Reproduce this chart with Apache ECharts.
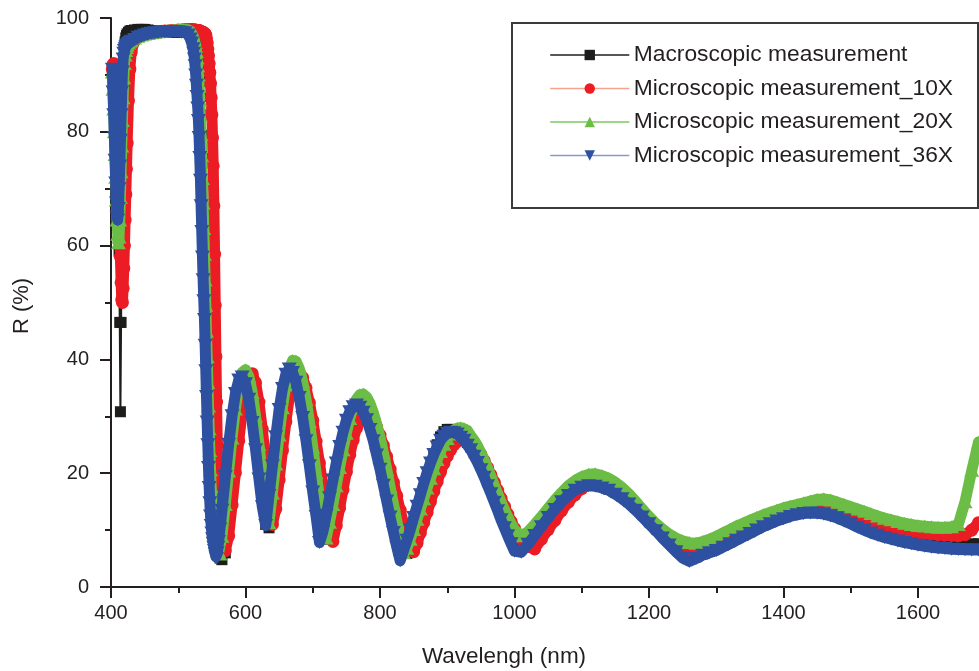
<!DOCTYPE html>
<html>
<head>
<meta charset="utf-8">
<script src="https://cdn.jsdelivr.net/npm/echarts@6/dist/echarts.min.js"></script>
<style>html,body{margin:0;padding:0;background:#fff}#c{width:979px;height:671px}</style>
</head>
<body>
<div id="c"></div>
<script>
// ---- data (wavelength in nm, reflectance in %) ----
const wavelength = [
  402,403,404,405,406,407,408,409,410,411,412,413,414,415,416,417,418,419,420,421,422,423,424,
  426,428,430,
  435,440,445,450,455,460,465,470,475,480,485,490,495,500,505,510,515,
  518,520,
  522,523,524,525,526,527,528,529,530,531,
  532,533,534,535,536,537,538,539,540,541,
  542,543,544,545,546,547,548,549,550,551,
  552,553,554,555,556,557,558,559,560,
  562,
  565,570,575,580,585,590,595,600,605,610,
  615,620,625,630,635,640,645,650,655,660,
  665,670,675,680,685,690,695,700,705,710,
  715,720,725,730,735,740,745,750,755,760,
  765,770,775,780,785,790,795,800,805,810,
  815,820,825,830,835,840,845,850,855,860,
  865,870,875,880,885,890,895,900,905,910,
  915,920,925,930,935,940,945,950,955,960,
  965,970,975,980,985,990,995,1000,
  1010,1020,1030,1040,1050,1060,1070,1080,1090,1100,
  1110,1120,1130,1140,1150,1160,1170,1180,1190,1200,
  1210,1220,1230,1240,1250,1260,1270,1280,1290,1300,
  1310,1320,1330,1340,1350,1360,1370,1380,1390,1400,
  1410,1420,1430,1440,1450,1460,1470,1480,1490,1500,
  1510,1520,1530,1540,1550,1560,1570,1580,1590,1600,
  1610,1620,1630,1640,1650,1660,1670,1680,1690
];

const rMacro = [
  90.5,90.5,90.0,89.5,88.5,87.5,86.0,83.0,77.0,69.0,59.0,46.5,30.8,46.5,62.0,77.0,87.0,92.0,94.5,95.8,96.5,96.9,97.2,
  97.5,97.7,97.8,
  97.9,98.0,98.0,98.0,97.9,97.8,97.7,97.6,97.5,97.5,97.5,97.5,97.5,97.5,97.5,97.5,97.5,
  97.4,97.3,
  97.2,97.0,96.8,96.5,96.2,95.8,95.2,94.2,92.8,91.0,
  88.8,86.2,83.0,79.4,75.3,70.8,65.8,60.5,55.0,49.3,
  43.6,38.0,32.6,27.7,23.5,19.8,16.6,14.0,12.0,10.6,
  9.5,8.6,7.9,7.3,6.8,6.4,6.0,5.7,5.5,
  5.1,
  4.8,6.0,11.5,18.5,25.5,31.5,35.3,37.0,35.9,33.1,
  28.7,23.4,16.5,11.0,10.4,15.2,21.3,26.4,31.1,34.7,
  37.1,38.0,37.6,36.1,34.0,31.1,27.7,23.9,19.9,15.9,
  12.0,8.4,8.8,11.9,15.4,18.8,22.1,25.2,27.8,29.8,
  31.1,31.5,31.2,30.6,29.7,28.3,26.6,24.7,22.6,20.2,
  17.7,15.3,12.7,10.4,8.0,5.9,6.3,8.6,11.1,13.7,
  16.2,18.7,21.1,23.1,25.0,26.4,27.3,27.7,27.7,27.6,
  27.2,26.8,26.2,25.4,24.6,23.6,22.6,21.4,20.2,18.9,
  17.6,16.3,14.9,13.55,12.2,10.9,9.6,8.4,
  6.75,8.1,9.5,11.0,12.5,13.9,15.2,16.3,17.2,17.7,
  18.0,17.9,17.7,17.2,16.6,15.9,15.0,14.0,12.9,11.7,
  10.6,9.4,8.2,7.1,6.0,5.3,5.3,5.8,6.3,6.8,
  7.3,7.9,8.5,9.1,9.7,10.3,10.9,11.4,11.9,12.3,
  12.7,13.0,13.2,13.3,13.3,13.1,12.8,12.4,12.0,11.5,
  11.0,10.5,10.1,9.7,9.3,9.0,8.7,8.4,8.2,8.0,
  7.9,7.8,7.75,7.7,7.7,7.65,7.6,7.6,7.6
];

const r10X = [
  91.0,91.8,92.0,91.3,89.8,87.5,84.5,81.0,77.0,72.5,68.0,63.0,58.0,53.5,50.5,50.0,52.5,56.0,60.0,64.5,69.0,73.5,78.0,
  85.5,91.0,94.0,
  96.0,96.6,96.9,97.1,97.2,97.3,97.4,97.5,97.6,97.7,97.7,97.8,97.8,97.9,97.9,98.0,98.0,
  98.0,98.0,
  97.9,97.9,97.9,97.9,97.9,97.8,97.8,97.8,97.8,97.8,
  97.7,97.7,97.6,97.6,97.5,97.5,97.4,97.3,97.2,97.0,
  96.4,95.6,94.6,93.4,92.0,90.4,88.5,86.0,83.0,79.0,
  74.0,67.0,58.5,49.5,40.5,32.5,25.0,19.0,15.0,
  11.0,
  8.5,6.4,9.0,14.4,20.1,25.7,30.7,34.5,36.9,37.5,
  35.9,32.5,27.7,22.1,16.3,11.0,13.7,18.8,24.0,29.0,
  33.2,36.3,37.8,37.7,36.8,35.0,32.4,29.3,25.6,21.8,
  17.8,13.9,10.2,8.0,10.8,13.9,17.1,20.2,23.2,25.8,
  27.9,29.5,30.3,30.5,30.1,29.3,28.1,26.7,24.9,22.9,
  20.7,18.4,16.0,13.5,11.2,8.9,6.8,6.2,7.7,9.5,
  11.3,13.1,15.0,16.8,18.5,20.2,21.7,23.0,24.1,25.0,
  25.6,25.9,26.0,25.8,25.4,24.9,24.2,23.3,22.2,21.0,
  19.7,18.4,17.0,15.6,14.2,12.8,11.5,10.3,
  8.4,7.1,6.7,8.4,10.1,11.7,13.4,14.9,16.2,17.3,
  18.0,18.3,18.2,17.8,17.1,16.2,15.1,13.9,12.6,11.3,
  10.1,9.0,8.0,7.2,6.6,6.2,6.0,6.1,6.4,6.8,
  7.3,7.9,8.5,9.1,9.7,10.3,10.9,11.5,12.0,12.5,
  12.9,13.3,13.6,13.8,14.0,14.0,13.8,13.5,13.1,12.7,
  12.3,11.9,11.5,11.1,10.8,10.4,10.1,9.9,9.7,9.5,
  9.4,9.3,9.2,9.1,9.05,9.0,9.2,10.0,11.3
];

const r20X = [
  90.5,87.5,84.0,80.0,76.0,72.0,68.0,64.5,62.0,60.5,61.5,64.5,68.5,73.0,77.5,82.0,86.0,89.5,92.0,93.5,94.3,94.8,95.2,
  95.6,95.9,96.1,
  96.5,96.8,97.0,97.2,97.3,97.4,97.5,97.6,97.7,97.7,97.8,97.8,97.9,97.9,98.0,98.0,97.9,
  97.7,97.4,
  96.9,96.6,96.2,95.7,95.0,94.1,93.0,91.6,90.0,88.0,
  85.6,82.8,79.5,75.8,71.8,67.5,63.0,58.5,54.0,49.5,
  45.0,40.5,36.0,31.8,27.8,24.0,20.6,17.6,15.0,12.8,
  11.0,9.6,8.5,7.9,7.4,7.0,6.6,6.3,6.0,
  5.8,
  8.9,14.5,20.4,26.2,31.3,35.2,37.7,38.2,37.0,34.2,
  30.0,25.1,19.8,14.7,11.3,16.5,21.6,26.7,31.5,35.5,
  38.4,39.8,39.7,38.4,36.1,33.0,29.1,24.6,20.1,15.5,
  11.2,8.6,11.4,14.5,17.8,21.0,24.1,27.0,29.6,31.6,
  33.0,33.8,33.9,33.4,32.3,30.7,28.7,26.3,23.6,20.7,
  17.6,14.6,11.6,8.7,6.0,6.8,8.4,10.1,11.9,13.7,
  15.5,17.4,19.1,20.8,22.4,23.8,25.1,26.1,26.9,27.6,
  27.9,28.0,27.8,27.5,26.6,25.8,24.8,23.6,22.3,20.9,
  19.4,17.9,16.4,15.0,13.6,12.3,11.1,10.1,
  9.0,9.7,11.0,12.4,13.85,15.3,16.6,17.8,18.7,19.4,
  19.8,19.9,19.6,19.1,18.4,17.5,16.4,15.1,13.7,12.4,
  11.2,10.2,9.3,8.6,8.1,7.8,7.7,8.0,8.4,8.9,
  9.5,10.1,10.7,11.2,11.7,12.2,12.7,13.1,13.5,13.9,
  14.2,14.5,14.8,15.1,15.4,15.5,15.3,14.9,14.5,14.1,
  13.7,13.3,12.9,12.5,12.1,11.8,11.5,11.2,11.0,10.8,
  10.7,10.6,10.5,10.5,10.6,11.0,15.0,20.5,25.5
];

const r36X = [
  91.0,87.0,83.0,79.0,75.0,71.0,67.5,65.0,64.5,66.5,70.0,74.0,78.5,83.0,87.0,90.5,92.8,93.8,94.3,94.6,94.9,95.1,95.3,
  95.5,95.7,95.9,
  96.2,96.6,96.8,97.0,97.2,97.3,97.4,97.5,97.6,97.6,97.6,97.6,97.6,97.6,97.5,97.4,97.0,
  96.3,95.6,
  94.6,93.8,92.8,91.6,90.0,88.2,86.2,84.2,82.0,79.0,
  75.5,71.5,67.0,62.5,58.0,54.0,50.3,47.0,42.5,38.0,
  33.5,29.0,25.0,21.0,17.5,14.8,12.5,10.8,9.5,8.5,
  7.7,7.0,6.4,5.8,5.3,5.0,6.0,7.0,8.0,
  10.2,
  13.5,19.4,25.1,30.1,34.0,36.4,36.9,35.7,33.0,28.9,
  24.1,19.0,14.1,10.8,16.1,21.3,26.4,31.2,34.9,37.4,
  38.3,37.7,36.0,33.3,29.8,25.7,21.3,16.7,12.4,7.8,
  9.7,12.6,15.7,18.8,21.8,24.7,27.2,29.3,30.8,31.7,
  32.0,31.6,30.7,29.4,27.7,25.7,23.2,20.7,17.9,15.1,
  12.3,9.6,7.0,4.6,6.4,8.2,10.1,12.2,14.2,16.2,
  18.2,20.1,21.8,23.3,24.6,25.8,26.5,27.0,27.2,27.1,
  26.9,26.3,25.8,24.9,24.1,23.0,21.9,20.6,19.3,17.8,
  16.4,14.9,13.4,11.8,10.4,9.0,7.6,6.3,
  6.1,7.5,9.05,10.6,12.2,13.6,15.0,16.1,17.0,17.55,
  17.8,17.7,17.4,17.0,16.3,15.5,14.6,13.5,12.3,11.1,
  9.9,8.6,7.4,6.2,5.1,4.5,5.0,5.6,6.0,6.4,
  7.0,7.6,8.2,8.8,9.4,10.0,10.6,11.1,11.6,12.0,
  12.4,12.7,12.9,13.0,12.95,12.8,12.5,12.1,11.6,11.1,
  10.5,10.0,9.5,9.1,8.7,8.4,8.1,7.8,7.6,7.35,
  7.15,7.0,6.85,6.75,6.65,6.6,6.55,6.5,6.5
];

const seriesNames = [
  'Macroscopic measurement',
  'Microscopic measurement_10X',
  'Microscopic measurement_20X',
  'Microscopic measurement_36X'
];
const xAxisTitle = 'Wavelengh (nm)';
const yAxisTitle = 'R (%)';

// ---- styling ----
const FONT = '"Liberation Sans", Arial, Helvetica, sans-serif';
const INK = '#231f20';
const styles = [
  {values: rMacro, color: '#1d1d1b', symbol: 'rect', size: 11, lw: 2, legendLine: '#231f20', z: 2},
  {values: r10X, color: '#ec1c24', symbol: 'circle', size: 13, lw: 11, legendLine: '#f6a38d', z: 3},
  {values: r20X, color: '#6cbd45', symbol: 'triangle', size: [15, 13], lw: 11, legendLine: '#80c760', z: 4},
  {values: r36X, color: '#2e50a0', symbol: 'path://M0,0L12,0L6,10Z', size: [15, 13], lw: 11, legendLine: '#8d97cf', z: 5}
];

const chart = echarts.init(document.getElementById('c'), null, {renderer: 'canvas', width: 979, height: 671});

const series = styles.map((s, k) => ({
  type: 'line',
  name: seriesNames[k],
  data: wavelength.map((w, i) => [w, s.values[i]]),
  symbol: s.symbol,
  symbolSize: s.size,
  showSymbol: true,
  showAllSymbol: true,
  itemStyle: {color: s.color},
  lineStyle: {color: s.color, width: s.lw, join: 'round', cap: 'round'},
  emphasis: {disabled: true},
  silent: true,
  z: s.z,
  clip: true
}));

const plainNumber = v => String(v);

chart.setOption({
  animation: false,
  backgroundColor: '#ffffff',
  grid: {left: 111, top: 18, width: 941.5, height: 569, containLabel: false, outerBoundsMode: 'none'},
  xAxis: {
    type: 'value', min: 400, max: 1800, interval: 200,
    axisLine: {show: true, onZero: false, lineStyle: {color: INK, width: 2}},
    axisTick: {show: true, length: 11, lineStyle: {color: INK, width: 2}},
    minorTick: {show: true, splitNumber: 2, length: 6, lineStyle: {color: INK, width: 2}},
    axisLabel: {color: INK, fontSize: 20, fontFamily: FONT, margin: 16, showMaxLabel: false, formatter: plainNumber},
    splitLine: {show: false}, minorSplitLine: {show: false}
  },
  yAxis: {
    type: 'value', min: 0, max: 100, interval: 20,
    axisLine: {show: true, onZero: false, lineStyle: {color: INK, width: 2}},
    axisTick: {show: true, length: 11, lineStyle: {color: INK, width: 2}},
    minorTick: {show: true, splitNumber: 2, length: 6, lineStyle: {color: INK, width: 2}},
    axisLabel: {color: INK, fontSize: 20, fontFamily: FONT, margin: 22, formatter: plainNumber},
    splitLine: {show: false}, minorSplitLine: {show: false}
  },
  legend: {
    orient: 'vertical', left: 550, top: 43, padding: 0,
    itemWidth: 78, itemHeight: 13, itemGap: 9.5,
    selectedMode: false,
    textStyle: {color: INK, fontSize: 22.8, fontFamily: FONT, lineHeight: 24},
    data: styles.map((s, k) => ({
      name: seriesNames[k],
      itemStyle: {color: s.color},
      lineStyle: {color: s.legendLine, width: 1.5}
    }))
  },
  graphic: [
    {type: 'rect', shape: {x: 512, y: 23, width: 466, height: 185},
     style: {fill: 'none', stroke: '#3a3a3a', lineWidth: 2}, silent: true},
    {type: 'text', x: 504, y: 657,
     style: {text: xAxisTitle, fill: INK, fontSize: 22.5, fontFamily: FONT, align: 'center', verticalAlign: 'middle'}},
    {type: 'text', x: 22, y: 306, rotation: Math.PI / 2,
     style: {text: yAxisTitle, fill: INK, fontSize: 22, fontFamily: FONT, align: 'center', verticalAlign: 'middle'}}
  ],
  series: series
});
</script>
</body>
</html>
